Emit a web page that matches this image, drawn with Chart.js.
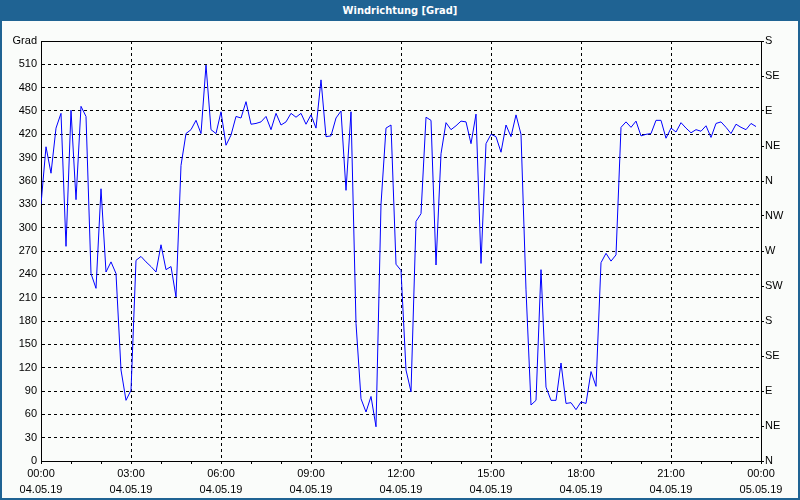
<!DOCTYPE html>
<html>
<head>
<meta charset="utf-8">
<script src="https://cdn.jsdelivr.net/npm/chart.js@4/dist/chart.umd.min.js"></script>
<style>
  html, body { margin: 0; padding: 0; background: #fff; }
  #wrap { position: relative; width: 800px; height: 500px; background: #fafcfa; overflow: hidden; }
  #chart { position: absolute; left: 0; top: 0; }
  #title {
    position: absolute; left: 0; top: 0; width: 800px; height: 21px;
    background: #1f6393; color: #fff; text-align: center;
    font: bold 11px "Liberation Sans Narrow", "DejaVu Sans Condensed", "Liberation Sans", sans-serif;
    line-height: 21px;
  }
  #frame {
    position: absolute; left: 0; top: 0; width: 796px; height: 498px;
    border-left: 2px solid #1f6393; border-right: 2px solid #1f6393; border-bottom: 2px solid #1f6393;
    pointer-events: none;
  }
</style>
</head>
<body>
<div id="wrap">
  <canvas id="chart" width="800" height="500"></canvas>
  <div id="title">Windrichtung [Grad]</div>
  <div id="frame"></div>
</div>
<script>
/* ── data: one reading every 10 minutes, 04.05.19 00:00 … 23:50 ── */
const stepMinutes = 10;
const windDir = [
  330, 404, 370, 428, 447, 276, 451, 336, 456, 443, 241, 222, 350, 243, 256, 241, 117, 78,
   91, 258, 263, 256, 250, 243, 278, 246, 250, 211, 380, 421, 426, 438, 421, 509, 426, 421,
  449, 406, 419, 443, 441, 462, 433, 434, 436, 443, 426, 447, 432, 436, 447, 442, 447, 433,
  445, 428, 490, 417, 418, 441, 450, 348, 449, 177,  80,  63,  83,  44, 330, 428, 432, 253,
  245, 117,  89, 308, 318, 442, 438, 252, 395, 435, 426, 431, 437, 436, 408, 446, 254, 408,
  420, 417, 397, 432, 417, 445, 420, 220,  72,  78, 246,  95,  78,  78, 126,  74,  75,  66,
   76,  74, 115,  96, 255, 267, 257, 265, 429, 436, 429, 437, 418, 420, 421, 438, 438, 415,
  428, 423, 435, 428, 422, 426, 424, 431, 416, 434, 436, 429, 421, 433, 429, 426, 434, 430
];

/* axis labels */
const xTickTimes = ['00:00','03:00','06:00','09:00','12:00','15:00','18:00','21:00','00:00'];
const xTickDates = ['04.05.19','04.05.19','04.05.19','04.05.19','04.05.19','04.05.19','04.05.19','04.05.19','05.05.19'];
const compass    = ['N','NE','E','SE','S','SW','W','NW','N','NE','E','SE','S'];
const yMax = 540;

const font = { family: '"Liberation Sans", Arial, sans-serif', size: 11 };

/* solid frame round the plot (top edge has no axis of its own) */
const plotFrame = {
  id: 'plotFrame',
  afterDraw (chart) {
    const { ctx, chartArea: a } = chart;
    ctx.save();
    ctx.strokeStyle = '#000';
    ctx.lineWidth = 1;
    ctx.beginPath();
    ctx.moveTo(a.left + 0.5, a.top + 0.5);
    ctx.lineTo(a.right + 0.5, a.top + 0.5);
    ctx.stroke();
    ctx.restore();
  }
};

new Chart(document.getElementById('chart'), {
  type: 'line',
  data: {
    datasets: [{
      data: windDir.map((v, i) => ({ x: i * stepMinutes, y: v })),
      borderColor: '#0000ff',
      borderWidth: 1,
      pointRadius: 0,
      tension: 0,
      fill: false,
      yAxisID: 'y'
    }]
  },
  options: {
    responsive: false,
    animation: false,
    devicePixelRatio: 1,
    layout: { padding: { top: 41, left: 0, right: 0, bottom: 0 } },
    plugins: { legend: { display: false }, title: { display: false }, tooltip: { enabled: false } },
    scales: {
      x: {
        type: 'linear', position: 'bottom', min: 0, max: 1440,
        afterFit: s => { s.height = 39; },
        ticks: {
          stepSize: 60, autoSkip: false, maxRotation: 0, padding: 2,
          color: '#000', font: { ...font, lineHeight: 1.45 },
          callback: v => v % 180 === 0 ? [xTickTimes[v / 180], xTickDates[v / 180]] : ''
        },
        grid: {
          color: c => (c.tick && c.tick.value % 180 === 0) ? '#000' : 'rgba(0,0,0,0)',
          tickColor: '#000', tickLength: 3, lineWidth: 1
        },
        border: { display: true, color: '#000', width: 1, dash: [3, 3] }
      },
      y: {
        position: 'left', min: 0, max: yMax,
        afterFit: s => { s.width = 41; },
        ticks: {
          stepSize: 30, padding: 4, color: '#000', font,
          callback: v => v === yMax ? 'Grad' : v
        },
        grid: { color: '#000', drawTicks: false, tickLength: 0, lineWidth: 1 },
        border: { display: true, color: '#000', width: 1, dash: [3, 3] }
      },
      y2: {
        position: 'right', min: 0, max: yMax,
        afterFit: s => { s.width = 39; },
        ticks: {
          stepSize: 45, padding: 1, color: '#000', font,
          callback: v => compass[v / 45]
        },
        grid: { drawOnChartArea: false, drawTicks: true, tickLength: 3, tickColor: '#000' },
        border: { display: true, color: '#000', width: 1 }
      }
    }
  },
  plugins: [plotFrame]
});
</script>
</body>
</html>
